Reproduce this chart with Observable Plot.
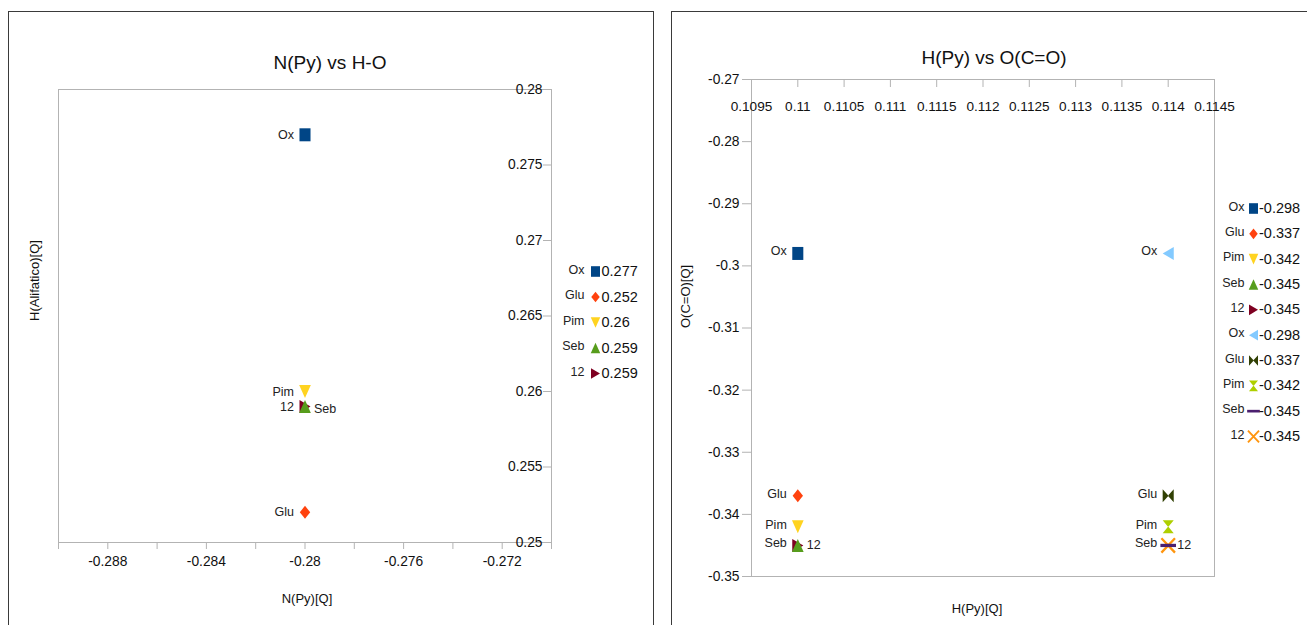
<!DOCTYPE html>
<html>
<head>
<meta charset="utf-8">
<script src="https://cdn.jsdelivr.net/npm/d3@7"></script>
<script src="https://cdn.jsdelivr.net/npm/@observablehq/plot@0.6"></script>
<style>
  html, body { margin: 0; padding: 0; background: #fff; }
  body { width: 1307px; height: 625px; position: relative; overflow: hidden; font-family: "Liberation Sans", Arial, sans-serif; }
  .panel { position: absolute; border: 1px solid #3a3a3a; background: #fff; }
  .abs { position: absolute; }
</style>
</head>
<body>
<div class="panel" style="left:8px;top:11px;width:644px;height:640px;"></div>
<div class="panel" style="left:671px;top:11px;width:660px;height:640px;"></div>
<div id="chart1" class="abs" style="left:0;top:0;"></div>
<div id="legend1" class="abs" style="left:555px;top:250px;"></div>
<div id="chart2" class="abs" style="left:660px;top:0;"></div>
<div id="legend2" class="abs" style="left:1210px;top:190px;"></div>
<script>
// ---------- DATA ----------
// Chart 1: N(Py) vs H-O
const leftNames = ["Ox", "Glu", "Pim", "Seb", "12"];
const leftX = [-0.28, -0.28, -0.28, -0.28, -0.28];
const leftY = [0.277, 0.252, 0.26, 0.259, 0.259];
const leftXTicks = [-0.29, -0.288, -0.286, -0.284, -0.282, -0.28, -0.278, -0.276, -0.274, -0.272, -0.27];
const leftXTickLabels = [-0.288, -0.284, -0.28, -0.276, -0.272];
const leftYTicks = [0.25, 0.255, 0.26, 0.265, 0.27, 0.275, 0.28];

// Chart 2: H(Py) vs O(C=O)
const rightNames = ["Ox", "Glu", "Pim", "Seb", "12", "Ox", "Glu", "Pim", "Seb", "12"];
const rightX = [0.11, 0.11, 0.11, 0.11, 0.11, 0.114, 0.114, 0.114, 0.114, 0.114];
const rightY = [-0.298, -0.337, -0.342, -0.345, -0.345, -0.298, -0.337, -0.342, -0.345, -0.345];
const rightXTicks = [0.1095, 0.11, 0.1105, 0.111, 0.1115, 0.112, 0.1125, 0.113, 0.1135, 0.114, 0.1145];
const rightYTicks = [-0.35, -0.34, -0.33, -0.32, -0.31, -0.3, -0.29, -0.28, -0.27];

// ---------- STYLE ----------
const palette = ["#004586", "#ff420e", "#ffd320", "#579d1c", "#7e0021", "#83caff", "#314004", "#aecf00", "#4b1f6f", "#ff950e"];
const FONT = "'Liberation Sans', Arial, sans-serif";
const AXIS = "#b3b3b3";
const TXT = "#111";
const LBL = "#222";

function rad(s) { return Math.sqrt(s / Math.PI); }
const SYM = {
  square: {draw(c, s) { const r = rad(s), w = 0.85 * r; c.rect(-w, -r, 2 * w, 2 * r); }},
  diamond: {draw(c, s) { const r = rad(s), w = 0.8 * r; c.moveTo(0, -r); c.lineTo(w, 0); c.lineTo(0, r); c.lineTo(-w, 0); c.closePath(); }},
  down: {draw(c, s) { const r = rad(s), w = 0.9 * r; c.moveTo(-w, -r); c.lineTo(w, -r); c.lineTo(0, r); c.closePath(); }},
  up: {draw(c, s) { const r = rad(s), w = 0.9 * r; c.moveTo(0, -r); c.lineTo(w, r); c.lineTo(-w, r); c.closePath(); }},
  right: {draw(c, s) { const r = rad(s), w = 0.85 * r; c.moveTo(-w, -r); c.lineTo(w, 0); c.lineTo(-w, r); c.closePath(); }},
  left: {draw(c, s) { const r = rad(s), w = 0.85 * r; c.moveTo(w, -r); c.lineTo(-w, 0); c.lineTo(w, r); c.closePath(); }},
  bowtie: {draw(c, s) { const r = rad(s), w = 0.85 * r;
    c.moveTo(-w, -r); c.lineTo(0.05 * r, 0); c.lineTo(-w, r); c.closePath();
    c.moveTo(w, -r); c.lineTo(-0.05 * r, 0); c.lineTo(w, r); c.closePath(); }},
  hourglass: {draw(c, s) { const r = rad(s), w = 0.85 * r;
    c.moveTo(-w, -r); c.lineTo(w, -r); c.lineTo(0, 0.05 * r); c.closePath();
    c.moveTo(-w, r); c.lineTo(w, r); c.lineTo(0, -0.05 * r); c.closePath(); }},
  bar: {draw(c, s) { const r = rad(s); c.rect(-1.2 * r, -0.25 * r, 2.4 * r, 0.5 * r); }},
  times: {draw(c, s) { const r = rad(s) * 1.1, w = 0.95 * r, t = 0.16 * r;
    for (const sg of [1, -1]) {
      const x1 = -w, y1 = -r * sg, x2 = w, y2 = r * sg;
      const L = Math.hypot(x2 - x1, y2 - y1), nx = -(y2 - y1) / L * t, ny = (x2 - x1) / L * t;
      c.moveTo(x1 + nx, y1 + ny); c.lineTo(x2 + nx, y2 + ny); c.lineTo(x2 - nx, y2 - ny); c.lineTo(x1 - nx, y1 - ny); c.closePath();
    } }}
};
const symbolOrder = [SYM.square, SYM.diamond, SYM.down, SYM.up, SYM.right, SYM.left, SYM.bowtie, SYM.hourglass, SYM.bar, SYM.times];

const fmt = d => String(+d.toFixed(4));

const leftData = leftNames.map((name, i) => ({name, x: leftX[i], y: leftY[i], i}));
const rightData = rightNames.map((name, i) => ({name, x: rightX[i], y: rightY[i], i}));

// draw order: "12" below "Seb" within each group
function drawOrder(data) {
  const out = [];
  for (let g = 0; g < data.length; g += 5) {
    [0, 1, 2, 4, 3].forEach(k => data[g + k] && out.push(data[g + k]));
  }
  return out;
}

function pointMarks(data, r) {
  return drawOrder(data).map(d => Plot.dot([d], {x: "x", y: "y", r, symbol: symbolOrder[d.i], fill: palette[d.i]}));
}

// ---------- CHART 1 ----------
const W1 = 660, H1 = 625, mL1 = 58, mR1 = 109, mT1 = 89, mB1 = 83;
const fw1 = W1 - mL1 - mR1, fh1 = H1 - mT1 - mB1;
const rightLabelled1 = new Set([3]);

const chart1 = Plot.plot({
  width: W1, height: H1,
  marginLeft: mL1, marginRight: mR1, marginTop: mT1, marginBottom: mB1,
  x: {domain: [-0.29, -0.27], axis: null},
  y: {domain: [0.25, 0.28], axis: null},
  style: {fontFamily: FONT, background: "transparent", overflow: "visible"},
  marks: [
    Plot.frame({stroke: AXIS}),
    Plot.tickX(leftXTicks, {x: d => d, insetTop: fh1, insetBottom: -7, stroke: AXIS}),
    Plot.text(leftXTickLabels, {x: d => d, frameAnchor: "bottom", dy: 23, text: fmt, fontSize: 13.8, fill: TXT}),
    Plot.tickY(leftYTicks, {y: d => d, insetLeft: fw1 - 8, stroke: AXIS}),
    Plot.text(leftYTicks, {y: d => d, frameAnchor: "right", dx: -9, textAnchor: "end", text: fmt, fontSize: 13.8, fill: TXT}),
    Plot.text(["N(Py) vs H-O"], {frameAnchor: "top", dx: 25, dy: -34, text: d => d, fontSize: 19, fill: TXT}),
    Plot.text(["N(Py)[Q]"], {frameAnchor: "bottom", dx: 2, dy: 60, text: d => d, fontSize: 13, fill: TXT}),
    Plot.text(["H(Alifatico)[Q]"], {frameAnchor: "left", dx: -24, dy: 5, rotate: -90, text: d => d, fontSize: 13, fill: TXT}),
    ...pointMarks(leftData, 6.5),
    Plot.text(leftData.filter(d => !rightLabelled1.has(d.i)), {x: "x", y: "y", text: "name", textAnchor: "end", dx: -11, fontSize: 12.5, fill: LBL}),
    Plot.text(leftData.filter(d => rightLabelled1.has(d.i)), {x: "x", y: "y", text: "name", textAnchor: "start", dx: 9, dy: 2, fontSize: 12.5, fill: LBL})
  ]
});
document.getElementById("chart1").append(chart1);

// ---------- CHART 2 ----------
const W2 = 647, H2 = 625, mL2 = 91, mR2 = 93, mT2 = 79, mB2 = 49;
const fw2 = W2 - mL2 - mR2, fh2 = H2 - mT2 - mB2;
const rightLabelled2 = new Set([4, 9]);

const chart2 = Plot.plot({
  width: W2, height: H2,
  marginLeft: mL2, marginRight: mR2, marginTop: mT2, marginBottom: mB2,
  x: {domain: [0.1095, 0.1145], axis: null},
  y: {domain: [-0.35, -0.27], axis: null},
  style: {fontFamily: FONT, background: "transparent", overflow: "visible"},
  marks: [
    Plot.frame({stroke: AXIS}),
    Plot.tickX(rightXTicks, {x: d => d, insetBottom: fh2 - 8, stroke: AXIS}),
    Plot.text(rightXTicks, {x: d => d, frameAnchor: "top", dy: 22, text: fmt, fontSize: 13.6, fill: TXT}),
    Plot.tickY(rightYTicks, {y: d => d, insetLeft: -9, insetRight: fw2, stroke: AXIS}),
    Plot.text(rightYTicks, {y: d => d, frameAnchor: "left", dx: -12, textAnchor: "end", text: fmt, fontSize: 13.8, fill: TXT}),
    Plot.text(["H(Py) vs O(C=O)"], {frameAnchor: "top", dx: 11, dy: -29, text: d => d, fontSize: 19, fill: TXT}),
    Plot.text(["H(Py)[Q]"], {frameAnchor: "bottom", dx: -6, dy: 36, text: d => d, fontSize: 13, fill: TXT}),
    Plot.text(["O(C=O)[Q]"], {frameAnchor: "left", dx: -66, rotate: -90, text: d => d, fontSize: 13, fill: TXT}),
    ...pointMarks(rightData, 6.5),
    Plot.text(rightData.filter(d => !rightLabelled2.has(d.i)), {x: "x", y: "y", text: "name", textAnchor: "end", fontSize: 12.5, fill: LBL, dx: -11, dy: -2}),
    Plot.text(rightData.filter(d => rightLabelled2.has(d.i)), {x: "x", y: "y", text: "name", textAnchor: "start", dx: 9, fontSize: 12.5, fill: LBL})
  ]
});
document.getElementById("chart2").append(chart2);

// ---------- LEGENDS ----------
function legend(names, values, {width, height, top, bottom, nameEnd, symX, valStart}) {
  const data = names.map((name, k) => ({name, value: values[k], k, i: k}));
  return Plot.plot({
    width, height, marginLeft: 0, marginRight: 0, marginTop: top, marginBottom: bottom,
    y: {domain: [0, names.length - 1], reverse: true, axis: null},
    x: {axis: null},
    style: {fontFamily: FONT, background: "transparent", overflow: "visible"},
    marks: [
      Plot.text(data, {y: "k", frameAnchor: "left", dx: nameEnd, dy: -2, textAnchor: "end", text: "name", fontSize: 12.5, fill: LBL}),
      ...data.map(d => Plot.dot([d], {y: "k", frameAnchor: "left", dx: symX, r: 5.3, symbol: symbolOrder[d.i], fill: palette[d.i]})),
      Plot.text(data, {y: "k", frameAnchor: "left", dx: valStart, textAnchor: "start", text: d => fmt(d.value), fontSize: 14.5, fill: TXT})
    ]
  });
}
document.getElementById("legend1").append(
  legend(leftNames, leftY, {width: 95, height: 145, top: 21, bottom: 22, nameEnd: 29, symX: 40, valStart: 46})
);
document.getElementById("legend2").append(
  legend(rightNames, rightY, {width: 97, height: 265, top: 18, bottom: 19, nameEnd: 34, symX: 43, valStart: 48.5})
);
</script>
</body>
</html>
